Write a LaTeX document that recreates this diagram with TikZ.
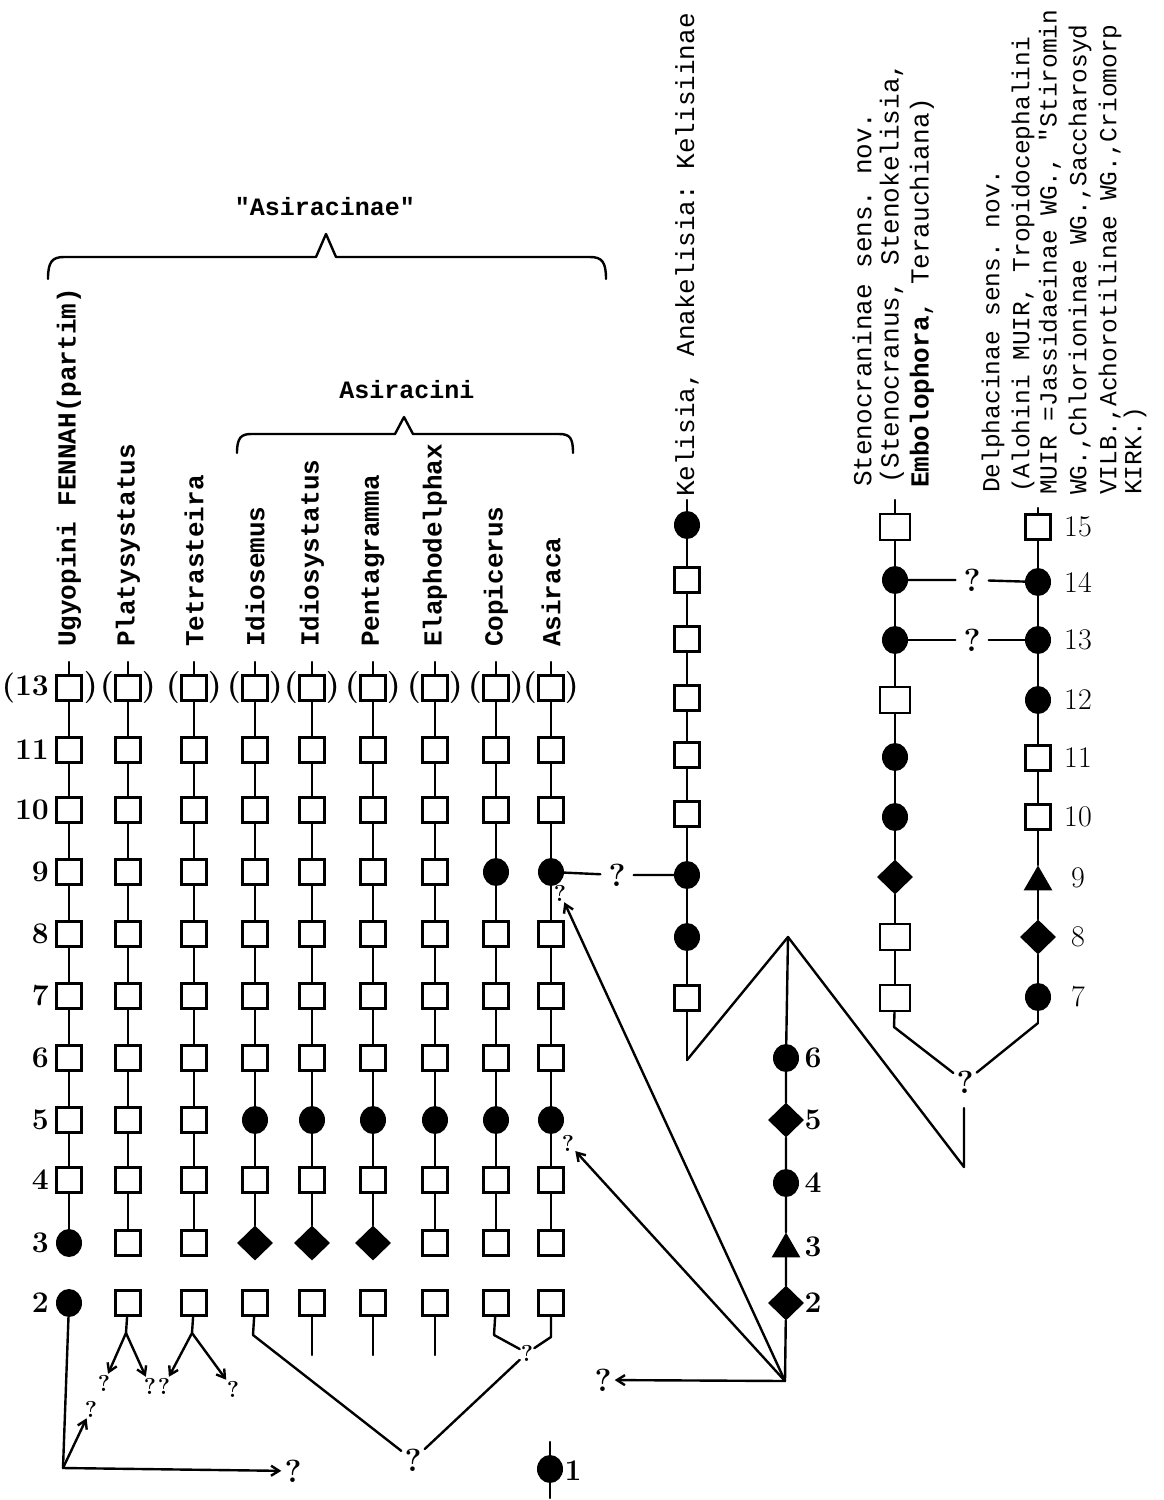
\documentclass[tikz,border=0pt]{standalone}
\usepackage{fontspec}
\setmonofont{Liberation Mono}
\usetikzlibrary{shapes.geometric,arrows.meta}
\tikzset{
  ln/.style={line width=2.4pt, line cap=round, line join=round},
  sq/.style={draw, line width=2.4pt, fill=white, minimum width=25pt, minimum height=25pt, inner sep=0pt},
  sqw/.style={sq, minimum width=30pt, minimum height=26pt},
  dot/.style={ellipse, fill=black, minimum width=26pt, minimum height=28pt, inner sep=0pt},
  dia/.style={diamond, fill=black, minimum width=36pt, minimum height=35pt, inner sep=0pt},
  tri/.style={regular polygon, regular polygon sides=3, fill=black, minimum size=33pt, inner sep=0pt},
  lab/.style={rotate=90, anchor=west, inner sep=0pt, font=\fontsize{26}{30}\selectfont\ttfamily},
  dlab/.style={rotate=90, anchor=west, inner sep=0pt, font=\fontsize{24.5}{30}\selectfont\ttfamily},
  blab/.style={rotate=90, anchor=west, inner sep=0pt, font=\fontsize{26}{30}\selectfont\ttfamily\bfseries},
  num/.style={inner sep=0pt, font=\fontsize{30}{34}\selectfont\bfseries},
  rnum/.style={inner sep=0pt, font=\fontsize{30}{34}\selectfont},
  par/.style={inner sep=0pt, font=\fontsize{32}{36}\selectfont\bfseries},
  qm/.style={inner sep=3pt, font=\fontsize{32}{36}\selectfont\bfseries},
  qg/.style={qm, inner sep=8pt},
  qs/.style={inner sep=1pt, font=\fontsize{23}{28}\selectfont\bfseries},
  arr/.style={ln, -{Straight Barb[length=8pt,width=10pt]}},
  head/.style={inner sep=0pt, font=\fontsize{25}{30}\selectfont\ttfamily\bfseries},
}
\begin{document}
\begin{tikzpicture}[x=1pt,y=-1pt]
\useasboundingbox (0,0) rectangle (1163,1500);
\fill[white] (0,0) rectangle (1163,1500);

% ---------- left block columns ----------
\foreach \c/\x/\shp in {
 1/69/{sq,sq,sq,sq,sq,sq,sq,sq,sq,dot,dot},
 2/128/{sq,sq,sq,sq,sq,sq,sq,sq,sq,sq,sq},
 3/194/{sq,sq,sq,sq,sq,sq,sq,sq,sq,sq,sq},
 4/255/{sq,sq,sq,sq,sq,sq,sq,dot,sq,dia,sq},
 5/312/{sq,sq,sq,sq,sq,sq,sq,dot,sq,dia,sq},
 6/373/{sq,sq,sq,sq,sq,sq,sq,dot,sq,dia,sq},
 7/435/{sq,sq,sq,sq,sq,sq,sq,dot,sq,sq,sq},
 8/496/{sq,sq,sq,dot,sq,sq,sq,dot,sq,sq,sq},
 9/551/{sq,sq,sq,dot,sq,sq,sq,dot,sq,sq,sq}}{
  \coordinate (c\c-0) at (\x,662);
  \foreach \s [count=\i] in \shp {
    \pgfmathsetmacro\yy{{688,750,810,872,934,996,1058,1120,1180,1243,1303}[\i-1]}
    \edef\tmp{\noexpand\node[\s] (c\c-\i) at (\x,\yy) {};}\tmp
  }
  \foreach \i [evaluate=\i as \j using int(\i+1)] in {0,...,9} {
    \draw[ln] (c\c-\i) -- (c\c-\j);
  }
}

% row numbers
\node[num, anchor=east] (rn688) at (49,688) {(13};
\foreach \t/\y in {11/750,10/810,9/872,8/934,7/996,6/1058,5/1120,4/1180,3/1243,2/1303}
  \node[num, anchor=east] (rn\y) at (49,\y) {\t};
% parentheses
\node[par] (pr1) at (91,688) {)};
\foreach \c/\x in {2/128,3/194,4/255,5/312,6/373,7/435,8/496,9/551}{
  \node[par] (pl\c) at (\x-21,688) {(};
  \node[par] (pr\c) at (\x+21,688) {)};
}

% column labels
\node[blab] (l1) at (69,647) {Ugyopini FENNAH(partim)};
\node[blab] (l2) at (128,647) {Platysystatus};
\node[blab] (l3) at (194,647) {Tetrasteira};
\node[blab] (l4) at (255,647) {Idiosemus};
\node[blab] (l5) at (312,647) {Idiosystatus};
\node[blab] (l6) at (373,647) {Pentagramma};
\node[blab] (l7) at (435,647) {Elaphodelphax};
\node[blab] (l8) at (496,647) {Copicerus};
\node[blab] (l9) at (551,647) {Asiraca};

% braces and group names
\node[head] (asn) at (325,207) {"Asiracinae"};
\draw[ln] (48,279) .. controls (48,262) and (52,257) .. (64,257) -- (316,257) -- (326,234) -- (336,257) -- (590,257) .. controls (602,257) and (606,262) .. (606,279);
\node[head] (asi) at (407,390) {Asiracini};
\draw[ln] (237,453) .. controls (237,438) and (241,434) .. (251,434) -- (395,434) -- (404,417) -- (413,434) -- (559,434) .. controls (570,434) and (573,438) .. (573,453);

% ---------- bottom of left block ----------
\coordinate (cn) at (63,1468);
\draw[ln] (c1-11) -- (cn);
\node[qm] (qL1) at (293,1471) {?};
\draw[arr] (cn) -- (qL1);
\node[qs] (qL2) at (91,1409) {?};
\draw[arr] (cn) -- (qL2);

\coordinate (fp) at (126,1333);
\draw[ln] (c2-11) -- (fp);
\node[qs] (qP1) at (104,1383) {?};
\node[qs] (qP2) at (150,1386) {?};
\draw[arr] (fp) -- (qP1);
\draw[arr] (fp) -- (qP2);

\coordinate (ft) at (192,1333);
\draw[ln] (c3-11) -- (ft);
\node[qs] (qT1) at (164,1386) {?};
\node[qs] (qT2) at (233,1389) {?};
\draw[arr] (ft) -- (qT1);
\draw[arr] (ft) -- (qT2);

\node[qm] (qB) at (413,1460) {?};
\coordinate (b4) at (253,1335);
\draw[ln] (c4-11) -- (b4) -- (qB);
\coordinate (e5) at (312,1355);
\coordinate (e6) at (373,1355);
\coordinate (e7) at (435,1355);
\draw[ln] (c5-11) -- (e5);
\draw[ln] (c6-11) -- (e6);
\draw[ln] (c7-11) -- (e7);
\node[qs] (qC) at (527,1353) {?};
\coordinate (b8) at (494,1335);
\coordinate (b9) at (551,1337);
\draw[ln] (c8-11) -- (b8) -- (qC);
\draw[ln] (c9-11) -- (b9) -- (qC);
\draw[ln] (qC) -- (qB);

\coordinate (o0) at (550,1442);
\node[dot] (one) at (550,1469) {};
\coordinate (o1) at (550,1498);
\draw[ln] (o0) -- (one) -- (o1);
\node[num] (onel) at (573,1471) {1};

% ---------- Kelisia column ----------
\coordinate (k0) at (687,500);
\foreach \s/\y [count=\i] in {dot/525,sq/580,sq/639,sq/698,sq/755,sq/814,dot/875,dot/937,sq/998}{
  \edef\tmp{\noexpand\node[\s] (k\i) at (687,\y) {};}\tmp }
\coordinate (k10) at (687,1060);
\foreach \i [evaluate=\i as \j using int(\i+1)] in {0,...,9} \draw[ln] (k\i) -- (k\j);
\node[lab] (kl) at (687,497) {Kelisia, Anakelisia: Kelisiinae};

% ---------- Stenocranus column ----------
\coordinate (s0) at (895,500);
\foreach \s/\y [count=\i] in {sqw/527,dot/580,dot/640,sqw/700,dot/757,dot/817,dia/877,sqw/937,sqw/998}{
  \edef\tmp{\noexpand\node[\s] (s\i) at (895,\y) {};}\tmp }
\coordinate (s10) at (894,1027);
\foreach \i [evaluate=\i as \j using int(\i+1)] in {0,...,9} \draw[ln] (s\i) -- (s\j);
\node[lab] (sl1) at (862,487) {Stenocraninae sens. nov.};
\node[lab] (sl2) at (892,484) {(Stenocranus, Stenokelisia,};
\node[lab] (sl3) at (922,488) {\textbf{Embolophora}, Terauchiana)};

% ---------- Delphacinae column ----------
\coordinate (d0) at (1038,508);
\foreach \s/\y [count=\i] in {sq/527,dot/582,dot/640,dot/700,sq/758,sq/817,tri/882,dia/937,dot/997}{
  \edef\tmp{\noexpand\node[\s] (d\i) at (1038,\y) {};}\tmp }
\coordinate (d10) at (1038,1023);
\foreach \i [evaluate=\i as \j using int(\i+1)] in {0,...,9} \draw[ln] (d\i) -- (d\j);
\foreach \t/\y in {15/527,14/582,13/640,12/700,11/758,10/817,9/878,8/937,7/997}
  \node[rnum] (dn\t) at (1078,\y) {\t};
\node[dlab] (dl1) at (993,493) {Delphacinae sens. nov.};
\node[dlab] (dl2) at (1023,493) {(Alohini MUIR, Tropidocephalini};
\node[dlab] (dl3) at (1050,495) {MUIR =Jassidaeinae WG., "Stiromin};
\node[dlab] (dl4) at (1080,495) {WG.,Chlorioninae WG.,Saccharosyd};
\node[dlab] (dl5) at (1110,495) {VILB.,Achorotilinae WG.,Criomorp};
\node[dlab] (dl6) at (1135,495) {KIRK.)};

% ---------- "?" links ----------
\node[qg] (q9) at (617,875) {?};
\draw[ln] (c9-4) -- (q9) -- (k7);
\node[qg] (q14) at (972,580) {?};
\node[qg] (q13) at (972,640) {?};
\draw[ln] (s2) -- (q14) -- (d2);
\draw[ln] (s3) -- (q13) -- (d3);
\node[qm] (qj) at (965,1082) {?};
\draw[ln] (s10) -- (qj);
\draw[ln] (d10) -- (qj);

% ---------- central column ----------
\coordinate (hub) at (785,1381);
\node[dia] (m2) at (786,1303) {};
\node[tri] (m3) at (786,1249) {};
\node[dot] (m4) at (786,1183) {};
\node[dia] (m5) at (786,1120) {};
\node[dot] (m6) at (786,1058) {};
\coordinate (peak) at (788,937);
\draw[ln] (hub) -- (m2) -- (m3) -- (m4) -- (m5) -- (m6) -- (peak);
\foreach \t/\y in {6/1058,5/1120,4/1183,3/1247,2/1303}
  \node[num] (mn\t) at (813,\y) {\t};
\coordinate (vb) at (964,1167);
\coordinate (vt) at (964,1108);
\draw[ln] (k10) -- (peak) -- (vb) -- (vt);

\node[qm] (qh) at (603,1380) {?};
\draw[arr] (hub) -- (qh);
\node[qs] (qa9) at (560,893) {?};
\node[qs] (qa5) at (568,1143) {?};
\draw[arr] (hub) -- (qa9);
\draw[arr] (hub) -- (qa5);
\end{tikzpicture}
\end{document}
